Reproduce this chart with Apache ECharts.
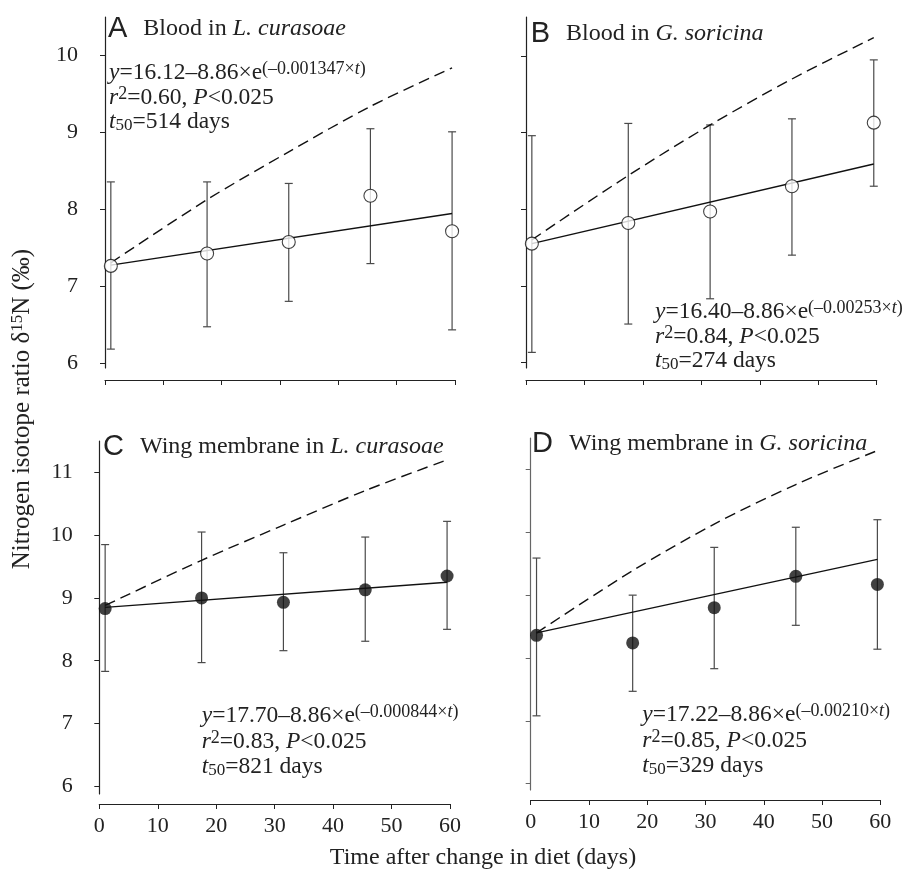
<!DOCTYPE html>
<html>
<head>
<meta charset="utf-8">
<script src="https://cdn.jsdelivr.net/npm/echarts@6/dist/echarts.min.js"></script>
<style>
  html, body { margin: 0; padding: 0; background: #fff; }
  #chart { width: 914px; height: 869px; }
</style>
</head>
<body>
<div id="chart"></div>
<script>
// sampling days (x) shared by all panels
const days = [1, 17.5, 31.5, 45.5, 59.5];
const fitDays = [1, 59.5];
const xTicks = [0, 10, 20, 30, 40, 50, 60];

// A: blood, L. curasoae
const meanA = [7.26, 7.42, 7.57, 8.17, 7.71];
const upA = [8.35, 8.35, 8.33, 9.04, 9.00];
const lowA = [6.18, 6.47, 6.80, 7.29, 6.43];
const fitA = [7.27, 7.94];
const expA = [7.30, 8.12, 8.74, 9.33, 9.83];

// B: blood, G. soricina
const meanB = [7.55, 7.82, 7.97, 8.30, 9.13];
const upB = [8.96, 9.12, 9.10, 9.18, 9.95];
const lowB = [6.13, 6.50, 6.83, 7.40, 8.30];
const fitB = [7.55, 8.59];
const expB = [7.60, 8.44, 9.10, 9.70, 10.24];

// C: wing membrane, L. curasoae
const meanC = [8.83, 9.00, 8.93, 9.13, 9.35];
const upC = [9.85, 10.05, 9.72, 9.97, 10.22];
const lowC = [7.83, 7.97, 8.16, 8.31, 8.50];
const fitC = [8.85, 9.25];
const expC = [8.88, 9.60, 10.16, 10.71, 11.20];

// D: wing membrane, G. soricina
const meanD = [8.36, 8.24, 8.80, 9.30, 9.17];
const upD = [9.59, 9.00, 9.76, 10.08, 10.20];
const lowD = [7.08, 7.47, 7.83, 8.52, 8.14];
const fitD = [8.40, 9.57];
const expD = [8.40, 9.39, 10.13, 10.76, 11.30];

const yTicksTop = [6, 7, 8, 9, 10];
const yTicksBottom = [6, 7, 8, 9, 10, 11];

const SERIF = '"Liberation Serif", "Times New Roman", serif';
const SANS = '"Liberation Sans", Arial, sans-serif';

const chart = echarts.init(document.getElementById('chart'));

const zip = (a, b) => a.map((v, i) => [v, b[i]]);

const errRender = (params, api) => {
    const x = api.value(0);
    const lo = api.coord([x, api.value(1)]);
    const hi = api.coord([x, api.value(2)]);
    const w = 4;
    const st = { stroke: '#4a4a4a', lineWidth: 1.2 };
    return {
        type: 'group',
        children: [
            { type: 'line', shape: { x1: hi[0], y1: hi[1], x2: lo[0], y2: lo[1] }, style: st },
            { type: 'line', shape: { x1: hi[0] - w, y1: hi[1], x2: hi[0] + w, y2: hi[1] }, style: st },
            { type: 'line', shape: { x1: lo[0] - w, y1: lo[1], x2: lo[0] + w, y2: lo[1] }, style: st }
        ]
    };
};

const grids = [
    { left: 105, right: 459, top: 17, bottom: 501 },
    { left: 526, right: 37.3, top: 17, bottom: 501 },
    { left: 99.3, right: 464, top: 441, bottom: 75 },
    { left: 530.7, right: 33.7, top: 438, bottom: 79 }
];

const xAxisOf = (i, offset, labels) => ({
    type: 'value', gridIndex: i, min: 0, max: 60, interval: 10, offset: offset,
    axisLine: { lineStyle: { color: '#222', width: 1.2 } },
    axisTick: { inside: false, length: 5, lineStyle: { color: '#222' } },
    axisLabel: { show: labels, margin: 11, fontFamily: SERIF, fontSize: 22, color: '#222' },
    splitLine: { show: false }
});

const yAxisOf = (i, min, max, ticks, offset, labels, color) => ({
    type: 'value', gridIndex: i, min: min, max: max, offset: offset,
    axisLine: { show: true, lineStyle: { color: color, width: 1.2 } },
    axisTick: { show: true, inside: false, length: 5, customValues: ticks, lineStyle: { color: color } },
    axisLabel: { show: labels, customValues: ticks, margin: 16, fontFamily: SERIF, fontSize: 22, color: '#222' },
    splitLine: { show: false }
});

const panelSeries = (i, mean, up, low, fit, exp, filled) => [
    {
        type: 'custom', xAxisIndex: i, yAxisIndex: i, renderItem: errRender,
        data: days.map((d, k) => [d, low[k], up[k]]), encode: { x: 0, y: [1, 2] }, z: 1, silent: true
    },
    {
        type: 'line', xAxisIndex: i, yAxisIndex: i, data: zip(days, exp), smooth: 0.3, symbol: 'none',
        lineStyle: { color: '#111', width: 1.4, type: [11, 6] }, z: 2
    },
    {
        type: 'line', xAxisIndex: i, yAxisIndex: i, data: zip(fitDays, fit), symbol: 'none',
        lineStyle: { color: '#111', width: 1.4 }, z: 3
    },
    {
        type: 'scatter', xAxisIndex: i, yAxisIndex: i, data: zip(days, mean), symbol: 'circle',
        symbolSize: 13,
        itemStyle: filled ? { color: '#111' } : { color: '#fff', borderColor: '#111', borderWidth: 1.1 }, z: 4
    }
];

const rich = {
    i: { fontFamily: SERIF, fontSize: 23.5, fontStyle: 'italic', lineHeight: 25 },
    sup: { fontFamily: SERIF, fontSize: 18, lineHeight: 16, verticalAlign: 'top' },
    supi: { fontFamily: SERIF, fontSize: 18, lineHeight: 16, fontStyle: 'italic', verticalAlign: 'top' },
    sub: { fontFamily: SERIF, fontSize: 17, lineHeight: 15, verticalAlign: 'bottom' },
    ysup: { fontFamily: SERIF, fontSize: 17, lineHeight: 15, verticalAlign: 'top' },
    big: { fontFamily: SANS, fontSize: 29, lineHeight: 28, padding: [0, 16, 0, 0] },
    ti: { fontFamily: SERIF, fontSize: 24, fontStyle: 'italic', lineHeight: 28 }
};

const txt = (x, y, text, size) => ({
    type: 'text', x: x, y: y, silent: true,
    style: {
        text: text, rich: rich, fontFamily: SERIF, fontSize: size || 23.5, lineHeight: 25,
        fill: '#222', align: 'left', verticalAlign: 'middle'
    }
});

const eq = (x, ys, a, b, c, r2, t50) => [
    txt(x, ys[0], '{i|y}=' + a + '–' + b + '×e{sup|(–' + c + '×}{supi|t}{sup|)}'),
    txt(x, ys[1], '{i|r}{sup|2}=' + r2 + ', {i|P}<0.025'),
    txt(x, ys[2], '{i|t}{sub|50}=' + t50 + ' days')
];

const option = {
    animation: false,
    grid: grids,
    xAxis: [xAxisOf(0, 12, false), xAxisOf(1, 12, false), xAxisOf(2, 10, true), xAxisOf(3, 10, true)],
    yAxis: [
        yAxisOf(0, 5.935, 10.49, yTicksTop, 11, true, '#222'),
        yAxisOf(1, 5.926, 10.51, yTicksTop, 10.7, false, '#222'),
        yAxisOf(2, 5.877, 11.5, yTicksBottom, 10.6, true, '#222'),
        yAxisOf(3, 5.9, 11.5, yTicksBottom, 11.7, false, '#666')
    ],
    series: [
        ...panelSeries(0, meanA, upA, lowA, fitA, expA, false),
        ...panelSeries(1, meanB, upB, lowB, fitB, expB, false),
        ...panelSeries(2, meanC, upC, lowC, fitC, expC, true),
        ...panelSeries(3, meanD, upD, lowD, fitD, expD, true)
    ],
    graphic: [
        txt(108, 29, '{big|A}Blood in {ti|L. curasoae}', 24),
        txt(530.7, 34, '{big|B}Blood in {ti|G. soricina}', 24),
        txt(103, 447, '{big|C}Wing membrane in {ti|L. curasoae}', 24),
        txt(532, 444, '{big|D}Wing membrane in {ti|G. soricina}', 24),
        ...eq(109, [73, 98, 122], '16.12', '8.86', '0.001347', '0.60', '514'),
        ...eq(655, [312, 337, 361], '16.40', '8.86', '0.00253', '0.84', '274'),
        ...eq(201.7, [716, 742, 767], '17.70', '8.86', '0.000844', '0.83', '821'),
        ...eq(642.3, [715, 741, 766], '17.22', '8.86', '0.00210', '0.85', '329'),
        {
            type: 'text', x: 22, y: 409, rotation: Math.PI / 2, silent: true,
            style: {
                text: 'Nitrogen isotope ratio δ{ysup|15}N (‰)', rich: rich,
                fontFamily: SERIF, fontSize: 25, lineHeight: 26, fill: '#222',
                align: 'center', verticalAlign: 'middle'
            }
        },
        {
            type: 'text', x: 483, y: 858, silent: true,
            style: {
                text: 'Time after change in diet (days)', fontFamily: SERIF, fontSize: 24,
                fill: '#222', align: 'center', verticalAlign: 'middle'
            }
        }
    ]
};

chart.setOption(option);
window.addEventListener('resize', () => chart.resize());
</script>
</body>
</html>
